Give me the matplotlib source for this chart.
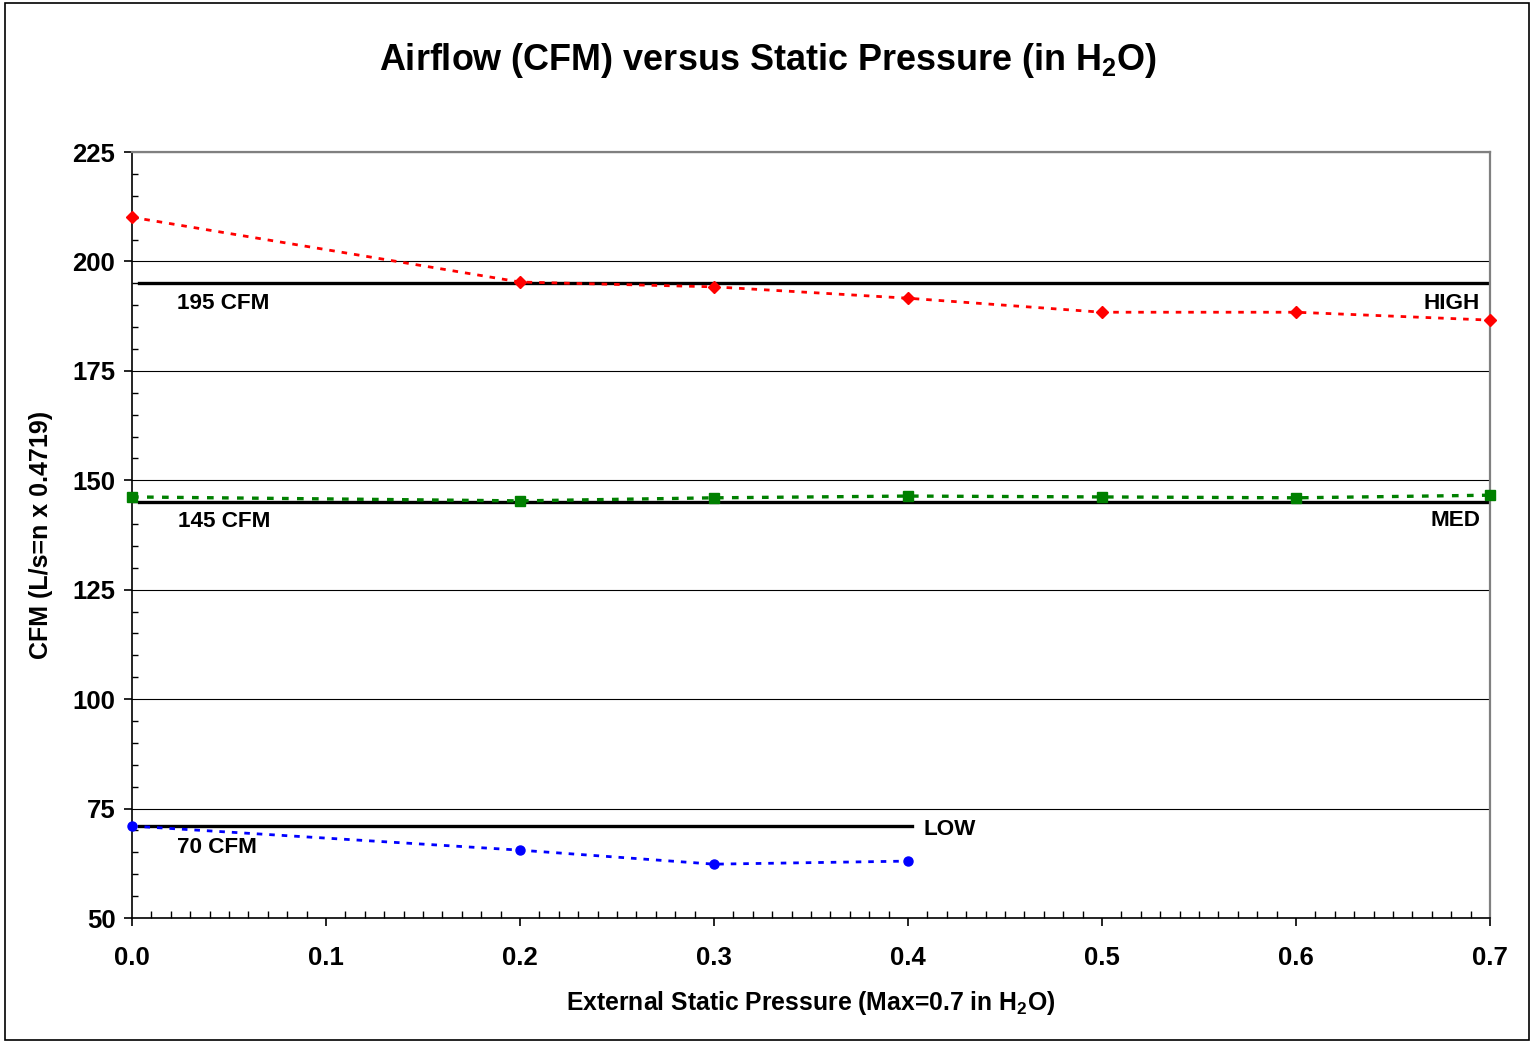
import numpy as np
import matplotlib.pyplot as plt
from matplotlib.patches import Rectangle
from matplotlib.ticker import MultipleLocator

plt.rcParams["font.family"] = ["Liberation Sans", "DejaVu Sans"]
plt.rcParams["font.weight"] = "bold"
plt.rcParams["mathtext.fontset"] = "custom"
plt.rcParams["mathtext.rm"] = "Liberation Sans:bold"
plt.rcParams["mathtext.it"] = "Liberation Sans:bold"
plt.rcParams["mathtext.bf"] = "Liberation Sans:bold"
plt.rcParams["mathtext.default"] = "rm"

# Data
pressure = [0.0, 0.2, 0.3, 0.4, 0.5, 0.6, 0.7]
high_cfm = [210.1, 195.3, 194.2, 191.6, 188.4, 188.4, 186.6]
med_cfm = [146.2, 145.3, 146.0, 146.4, 146.2, 146.0, 146.6]
low_pressure = [0.0, 0.2, 0.3, 0.4]
low_cfm = [71.0, 65.5, 62.3, 63.0]

# Target levels
targets = [195, 145, 71]
target_ends = [0.7, 0.7, 0.402]
target_labels = ["195 CFM", "145 CFM", "70 CFM"]

fig = plt.figure(figsize=(15.35, 10.42), dpi=100)
ax = fig.add_axes([0.086, 0.119, 0.8847, 0.7351])

# Figure border
fig.patches.append(Rectangle((0.003, 0.002), 0.993, 0.995, transform=fig.transFigure,
                             fill=False, edgecolor="black", linewidth=1.2))

ax.set_xlim(0, 0.7)
ax.set_ylim(50, 225)
ax.yaxis.set_major_locator(MultipleLocator(25))
ax.yaxis.set_minor_locator(MultipleLocator(5))
ax.xaxis.set_major_locator(MultipleLocator(0.1))
ax.xaxis.set_minor_locator(MultipleLocator(0.01))
ax.grid(axis="y", which="major", color="black", linewidth=0.8)
ax.set_axisbelow(True)

# Target lines
for lvl, end in zip(targets, target_ends):
    ax.plot([0.0035, end], [lvl, lvl], color="black", linewidth=2.4, zorder=2)

ax.plot(pressure, high_cfm, color="red", linestyle=(0, (2, 2.5)), linewidth=2,
        marker="D", markersize=6, zorder=3, clip_on=False)
ax.plot(pressure, med_cfm, color="#008000", linestyle=(0, (2, 2.5)), linewidth=2.4,
        marker="s", markersize=6.5, zorder=3, clip_on=False)
ax.plot(low_pressure, low_cfm, color="blue", linestyle=(0, (2, 2.5)), linewidth=2,
        marker="o", markersize=6.5, zorder=3, clip_on=False)

# Labels
ax.text(0.023, 190.3, target_labels[0], fontsize=16.2, fontweight="bold", va="center")
ax.text(0.0235, 140.6, target_labels[1], fontsize=16.2, fontweight="bold", va="center")
ax.text(0.023, 66.2, target_labels[2], fontsize=16.2, fontweight="bold", va="center")
ax.text(0.6948, 190.5, "HIGH", fontsize=16.2, fontweight="bold", va="center", ha="right")
ax.text(0.6952, 140.8, "MED", fontsize=16.2, fontweight="bold", va="center", ha="right")
ax.text(0.408, 70.3, "LOW", fontsize=16.2, fontweight="bold", va="center", ha="left")

for side in ["top", "right"]:
    ax.spines[side].set_color("#808080")
    ax.spines[side].set_linewidth(1.6)
for side in ["left", "bottom"]:
    ax.spines[side].set_color("black")
    ax.spines[side].set_linewidth(1.2)

ax.tick_params(axis="both", which="major", direction="out", length=6, width=1.2,
               labelsize=18.5)
ax.tick_params(axis="x", which="major", pad=14)
ax.tick_params(axis="y", which="major", pad=6)
ax.tick_params(axis="y", which="minor", direction="in", length=4, width=1)
ax.tick_params(axis="x", which="minor", direction="in", length=5, width=1)
ax.xaxis.set_major_formatter(plt.FuncFormatter(lambda v, p: f"{v:.1f}"))
for lbl in ax.get_xticklabels() + ax.get_yticklabels():
    lbl.set_fontweight("bold")

ax.set_xlabel(r"External Static Pressure (Max=0.7 in H$_2$O)", fontsize=17.8,
              fontweight="bold", labelpad=14)
ax.set_ylabel("CFM (L/s=n x 0.4719)", fontsize=18, fontweight="bold", labelpad=14)
fig.text(0.5, 1 - 60 / 1042, r"Airflow (CFM) versus Static Pressure (in H$_2$O)",
         fontsize=25.9, fontweight="bold", ha="center", va="center")

fig.savefig("out.png", dpi=100)
